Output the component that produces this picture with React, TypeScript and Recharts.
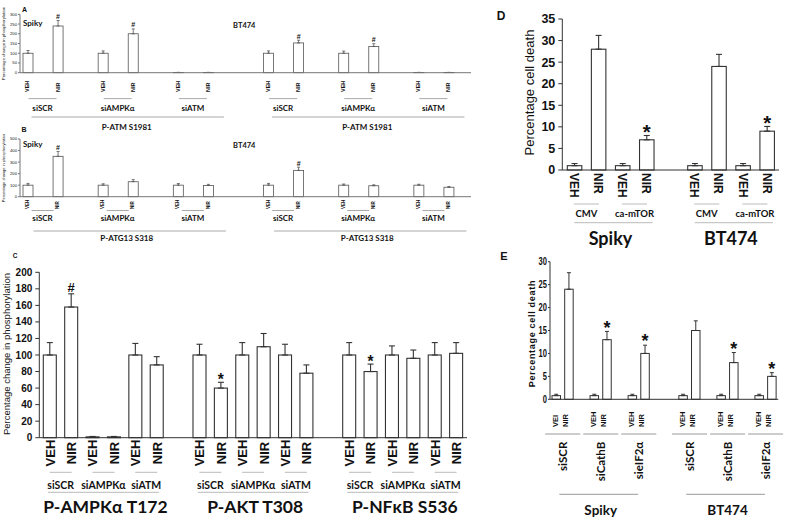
import React from 'react';
import { BarChart, Bar, XAxis, YAxis, ErrorBar } from 'recharts';

// ---------- Panel A : P-ATM S1981 ----------
const cellLines = ['Spiky', 'BT474'];
const abSubs = ['siSCR', 'siAMPKα', 'siATM'];
const aTitles = ['P-ATM S1981', 'P-ATM S1981'];
const aVeh = [100, 100, 1.5, 100, 100, 1.5];
const aNir = [240, 200, 1.5, 153, 135, 1.5];
const aVehErr = [14, 12, 0, 12, 11, 0];
const aNirErr = [28, 25, 0, 14, 14, 0];
const aMarks = ['#', '#', '', '#', '#', ''];
const aTicks = [0, 50, 100, 150, 200, 250, 300];

// ---------- Panel B : P-ATG13 S318 ----------
const bTitles = ['P-ATG13 S318', 'P-ATG13 S318'];
const bVeh = [100, 100, 100, 100, 100, 100];
const bNir = [350, 130, 97, 228, 95, 82];
const bVehErr = [15, 12, 14, 15, 10, 8];
const bNirErr = [42, 18, 10, 28, 8, 6];
const bMarks = ['#', '', '', '#', '', ''];
const bTicks = [0, 100, 200, 300, 400, 500];

// ---------- Panel C ----------
const cTitles = ['P-AMPKα T172', 'P-AKT T308', 'P-NFκB S536'];
const cSubs = ['siSCR', 'siAMPKα', 'siATM'];
const cVeh = [100, 1, 100, 100, 100, 100, 100, 100, 100];
const cNir = [158, 1, 88, 60, 110, 78, 80, 96, 102];
const cVehErr = [15, 0.5, 14, 13, 15, 13, 15, 11, 15];
const cNirErr = [16, 0.5, 10, 7, 16, 10, 9, 10, 13];
const cMarks = ['#', '', '', '*', '', '', '*', '', ''];
const cTicks = [0, 20, 40, 60, 80, 100, 120, 140, 160, 180, 200];

// ---------- Panel D ----------
const dSubs = ['CMV', 'ca-mTOR'];
const dVeh = [1, 1, 1, 1];
const dNir = [28, 7, 24, 9];
const dVehErr = [0.5, 0.5, 0.5, 0.5];
const dNirErr = [3.2, 1, 2.8, 1.1];
const dMarks = ['', '*', '', '*'];
const dTicks = [0, 5, 10, 15, 20, 25, 30, 35];

// ---------- Panel E ----------
const eSubs = ['siSCR', 'siCathB', 'sieIF2α'];
const eVeh = [0.8, 0.8, 0.8, 0.8, 0.8, 0.8];
const eNir = [24, 13, 10, 15, 8, 5];
const eVehErr = [0.3, 0.3, 0.3, 0.3, 0.3, 0.3];
const eNirErr = [3.6, 1.8, 1.8, 2.1, 2.2, 0.8];
const eMarks = ['', '*', '*', '', '*', '*'];
const eVehText = ['VEI', 'VEH', 'VEH', 'VEH', 'VEH', 'VEH'];
const eTicks = [0, 5, 10, 15, 20, 25, 30];

const FONT = '"Liberation Sans", Arial, sans-serif';
const LFONT = 'Lato, "Open Sans", "Liberation Sans", sans-serif';

type Slot = {
  key: string;
  kind: 'V' | 'N' | 'E';
  value: number | null;
  err: [number, number] | null;
  mark: string;
  text: string;
  sub: string;
  title: string;
  groupFirst: boolean;
  groupSpan: number;
};

type BuildOpts = {
  titles: string[];
  subs: string[];
  veh: number[];
  nir: number[];
  vehErr: number[];
  nirErr: number[];
  marks: string[];
  vehText?: string[];
  inner: number;
  pairGap: number;
  groupGap: number;
  trail: number;
};

function buildSlots(o: BuildOpts): Slot[] {
  const out: Slot[] = [];
  const empty = () =>
    out.push({ key: 'e' + out.length, kind: 'E', value: null, err: null, mark: '', text: '', sub: '', title: '', groupFirst: false, groupSpan: 0 });
  const nP = o.subs.length;
  const groupSpan = nP * (2 + o.inner) + (nP - 1) * o.pairGap;
  o.titles.forEach((title, g) => {
    if (g > 0) for (let k = 0; k < o.groupGap; k++) empty();
    o.subs.forEach((sub, p) => {
      if (p > 0) for (let k = 0; k < o.pairGap; k++) empty();
      const i = g * nP + p;
      out.push({ key: 'v' + out.length, kind: 'V', value: o.veh[i], err: [0, o.vehErr[i]], mark: '', text: o.vehText ? o.vehText[i] : 'VEH', sub, title, groupFirst: p === 0, groupSpan });
      for (let k = 0; k < o.inner; k++) empty();
      out.push({ key: 'n' + out.length, kind: 'N', value: o.nir[i], err: [0, o.nirErr[i]], mark: o.marks[i], text: 'NIR', sub, title, groupFirst: false, groupSpan });
    });
  });
  for (let k = 0; k < o.trail; k++) empty();
  return out;
}

type TickStyle = {
  rot: number;
  anchor: 'start' | 'middle' | 'end';
  ly: number;
  fs: number;
  vDx?: number;
  nDx?: number;
  inner: number;
  pairY: number;
  pairHalf: number;
  subY: number;
  subFs: number;
  subRot?: boolean;
  groupY: number;
  groupPad: number;
  lineShift?: number;
  titleShift?: number;
  titleY: number;
  titleFs: number;
  lineColor: string;
};

function makeTick(slots: Slot[], st: TickStyle, bw: number) {
  const byKey = new Map(slots.map((s) => [s.key, s]));
  return (props: any) => {
    const { x, y, payload } = props;
    const s = byKey.get(payload && payload.value);
    if (!s || s.kind === 'E') return <g />;
    const cx = x + (s.kind === 'N' ? st.nDx ?? 0 : st.vDx ?? 0);
    const bx = st.rot < 0 ? cx + 0.36 * st.fs : cx - 0.36 * st.fs;
    const by = y + st.ly;
    const els: any[] = [
      <text key="l" x={bx} y={by} transform={`rotate(${st.rot} ${bx} ${by})`} textAnchor={st.anchor}
        fontSize={st.fs} fontWeight="bold" fontFamily={FONT} fill="#111">
        {s.text}
      </text>,
    ];
    if (s.kind === 'V') {
      const pc = x + ((st.inner + 1) * bw) / 2;
      els.push(<line key="pl" x1={pc - st.pairHalf} x2={pc + st.pairHalf} y1={y + st.pairY} y2={y + st.pairY} stroke={st.lineColor} strokeWidth={1} />);
      if (st.subRot) {
        const sx = pc + 0.36 * st.subFs;
        const sy = y + st.subY;
        els.push(
          <text key="sl" x={sx} y={sy} transform={`rotate(-90 ${sx} ${sy})`} textAnchor="end" fontSize={st.subFs} fontWeight="bold" fontFamily={LFONT} fill="#111">
            {s.sub}
          </text>
        );
      } else {
        els.push(
          <text key="sl" x={pc} y={y + st.subY} dy="0.35em" textAnchor="middle" fontSize={st.subFs} fontWeight="bold" fontFamily={LFONT} fill="#111">
            {s.sub}
          </text>
        );
      }
      if (s.groupFirst) {
        const half = ((s.groupSpan - 1) * bw) / 2;
        const gc = x + half;
        const lc = gc + (st.lineShift ?? 0);
        const gh = half + st.groupPad;
        els.push(<line key="gl" x1={lc - gh} x2={lc + gh} y1={y + st.groupY} y2={y + st.groupY} stroke={st.lineColor} strokeWidth={1} />);
        els.push(
          <text key="gt" x={gc + (st.titleShift ?? 0)} y={y + st.titleY} dy="0.35em" textAnchor="middle" fontSize={st.titleFs} fontWeight="bold" fontFamily={LFONT} fill="#111">
            {s.title}
          </text>
        );
      }
    }
    return <g>{els}</g>;
  };
}

function makeYTick(fs: number, bold: boolean, scaleX: number) {
  return (props: any) => {
    const { x, y, payload } = props;
    return (
      <text x={0} y={0} transform={`translate(${x} ${y}) scale(${scaleX} 1)`} textAnchor="end" dy="0.35em"
        fontSize={fs} fontWeight={bold ? 'bold' : 'normal'} fontFamily={FONT} fill="#111">
        {payload.value}
      </text>
    );
  };
}

type PanelProps = {
  slots: Slot[];
  left: number;
  top: number;
  width: number;
  height: number;
  x0: number;
  x1: number;
  y0: number;
  y1: number;
  yTicks: number[];
  yFs: number;
  yBold: boolean;
  yScaleX?: number;
  yTickSize: number;
  yTickMargin: number;
  barSize: number;
  barStroke: string;
  barSW: number;
  capW: number;
  axisColor: string;
  boxColor: string;
  st: TickStyle;
  markFs: number;
  markGap: number;
};

function Panel(p: PanelProps) {
  const bw = (p.x1 - p.x0) / p.slots.length;
  const tick = makeTick(p.slots, p.st, bw);
  const yTick = makeYTick(p.yFs, p.yBold, p.yScaleX ?? 1);
  const yMax = p.yTicks[p.yTicks.length - 1];
  const shape = (sp: any) => {
    const d = sp.payload as Slot;
    if (!d || d.value == null || !(sp.height >= 0)) return <g />;
    const items: any[] = [
      <rect key="r" x={sp.x} y={sp.y} width={sp.width} height={sp.height} fill="#fff" stroke={p.barStroke} strokeWidth={p.barSW} />,
    ];
    if (d.mark) {
      const errPx = d.value > 0 && d.err ? (d.err[1] * sp.height) / d.value : 0;
      const cy = sp.y - errPx - p.markGap;
      const fs = d.mark === '*' ? p.markFs * 1.2 : p.markFs;
      const base = cy + (d.mark === '*' ? 0.57 : 0.36) * fs;
      items.push(
        <text key="m" x={sp.x + sp.width / 2} y={base} textAnchor="middle" fontSize={fs} fontWeight="bold" fontFamily={FONT} fill="#111">
          {d.mark}
        </text>
      );
    }
    return <g>{items}</g>;
  };
  return (
    <div style={{ position: 'absolute', left: p.left, top: p.top }}>
      <BarChart
        width={p.width}
        height={p.height}
        data={p.slots}
        margin={{ top: p.y0 - p.top, right: p.left + p.width - p.x1, left: 0, bottom: 0 }}
      >
        <XAxis
          dataKey="key"
          interval={0}
          tick={tick}
          tickLine={false}
          tickSize={0}
          tickMargin={0}
          height={p.top + p.height - p.y1}
          axisLine={{ stroke: p.axisColor }}
        />
        <XAxis xAxisId="top" orientation="top" dataKey="key" height={0} tick={false} tickLine={false} axisLine={{ stroke: p.boxColor }} />
        <YAxis
          domain={[0, yMax]}
          ticks={p.yTicks}
          interval={0}
          width={p.x0 - p.left}
          tickSize={p.yTickSize}
          tickMargin={p.yTickMargin}
          tickLine={{ stroke: p.axisColor }}
          axisLine={{ stroke: p.axisColor }}
          tick={yTick}
        />
        <YAxis yAxisId="right" orientation="right" domain={[0, yMax]} width={0} tick={false} tickLine={false} axisLine={{ stroke: p.boxColor }} />
        <Bar dataKey="value" isAnimationActive={false} barSize={p.barSize} shape={shape}>
          <ErrorBar dataKey="err" width={p.capW} stroke={p.barStroke} strokeWidth={p.barSW} direction="y" />
        </Bar>
      </BarChart>
    </div>
  );
}

const slotsA = buildSlots({ titles: aTitles, subs: abSubs, veh: aVeh, nir: aNir, vehErr: aVehErr, nirErr: aNirErr, marks: aMarks, inner: 1, pairGap: 2, groupGap: 3, trail: 1 });
const slotsB = buildSlots({ titles: bTitles, subs: abSubs, veh: bVeh, nir: bNir, vehErr: bVehErr, nirErr: bNirErr, marks: bMarks, inner: 1, pairGap: 2, groupGap: 3, trail: 1 });
const slotsC = buildSlots({ titles: cTitles, subs: cSubs, veh: cVeh, nir: cNir, vehErr: cVehErr, nirErr: cNirErr, marks: cMarks, inner: 0, pairGap: 0, groupGap: 1, trail: 0 });
const slotsD = buildSlots({ titles: cellLines, subs: dSubs, veh: dVeh, nir: dNir, vehErr: dVehErr, nirErr: dNirErr, marks: dMarks, inner: 0, pairGap: 0, groupGap: 1, trail: 0 });
const slotsE = buildSlots({ titles: cellLines, subs: eSubs, veh: eVeh, nir: eNir, vehErr: eVehErr, nirErr: eNirErr, marks: eMarks, vehText: eVehText, inner: 0, pairGap: 1, groupGap: 2, trail: 0 });

const YTITLE_PHOS = 'Percentage change in phosphorylation';
const YTITLE_DEATH = 'Percentage cell death';

function VText(props: { x: number; y: number; fs: number; text: string; bold?: boolean; ls?: number; font?: string }) {
  const { x, y, fs, text, bold, ls, font } = props;
  return (
    <text x={x} y={y} transform={`rotate(-90 ${x} ${y})`} textAnchor="middle" dominantBaseline="central" fontSize={fs}
      fontWeight={bold ? 'bold' : 'normal'} fontFamily={font ?? FONT} letterSpacing={ls ?? 0} fill="#111">
      {text}
    </text>
  );
}

export default function App() {
  return (
    <div style={{ position: 'absolute', left: 0, top: 0, width: 800, height: 531, background: '#fff', overflow: 'hidden' }}>
      <Panel slots={slotsA} left={0} top={0} width={480} height={134} x0={20} x1={471} y0={14.3} y1={72.7}
        yTicks={aTicks} yFs={4.2} yBold={false} yTickSize={2} yTickMargin={1}
        barSize={10} barStroke="#555" barSW={0.8} capW={1.5} axisColor="#777" boxColor="#999"
        markFs={7} markGap={4}
        st={{ rot: -90, anchor: 'start', ly: 19.3, fs: 5.5, inner: 1, pairY: 25.9, pairHalf: 14, subY: 35.3, subFs: 8,
          groupY: 44.3, groupPad: 6, lineShift: 10, titleShift: 9, titleY: 54, titleFs: 8, lineColor: '#aaa' }} />
      <Panel slots={slotsB} left={0} top={125} width={480} height={122} x0={20} x1={471} y0={139} y1={196.7}
        yTicks={bTicks} yFs={4.2} yBold={false} yTickSize={2} yTickMargin={1}
        barSize={10} barStroke="#555" barSW={0.8} capW={1.5} axisColor="#777" boxColor="#999"
        markFs={7} markGap={4}
        st={{ rot: -90, anchor: 'start', ly: 12.3, fs: 4.5, inner: 1, pairY: 13.8, pairHalf: 11, subY: 21, subFs: 8,
          groupY: 34.3, groupPad: 6, lineShift: 12, titleShift: 9, titleY: 41.6, titleFs: 8, lineColor: '#aaa' }} />
      <Panel slots={slotsC} left={0} top={250} width={480} height={280} x0={39.3} x1={467} y0={272.3} y1={437.7}
        yTicks={cTicks} yFs={10} yBold={true} yTickSize={4} yTickMargin={3}
        barSize={13} barStroke="#333" barSW={1.1} capW={3} axisColor="#333" boxColor="#999"
        markFs={13} markGap={6}
        st={{ rot: -90, anchor: 'middle', ly: 15.3, fs: 13, inner: 0, pairY: 34.6, pairHalf: 11, subY: 47.3, subFs: 10.5,
          groupY: 54.6, groupPad: 2, titleShift: 2, titleY: 69, titleFs: 17.5, lineColor: '#bbb' }} />
      <Panel slots={slotsD} left={500} top={0} width={290} height={252} x0={562.3} x1={779} y0={19} y1={170}
        yTicks={dTicks} yFs={12.5} yBold={true} yTickSize={4} yTickMargin={3}
        barSize={14.5} barStroke="#333" barSW={1.1} capW={3} axisColor="#333" boxColor="#888"
        markFs={17} markGap={8}
        st={{ rot: 90, anchor: 'start', ly: 3, fs: 12, inner: 0, pairY: 34, pairHalf: 12.5, subY: 43.3, subFs: 9.5,
          groupY: 52.7, groupPad: 3, lineShift: 3, titleY: 68.3, titleFs: 18, lineColor: '#bbb' }} />
      <Panel slots={slotsE} left={510} top={252} width={280} height={279} x0={550} x1={778.3} y0={261.7} y1={399.3}
        yTicks={eTicks} yFs={10.5} yBold={true} yScaleX={0.72} yTickSize={2} yTickMargin={1}
        barSize={8.5} barStroke="#333" barSW={1} capW={2} axisColor="#333" boxColor="#888"
        markFs={15} markGap={8}
        st={{ rot: -90, anchor: 'start', ly: 27.7, fs: 7.5, vDx: -1, nDx: -4, inner: 0, pairY: 34.7, pairHalf: 17.5, subY: 42.4, subFs: 11.5, subRot: true,
          groupY: 95, groupPad: -5, lineShift: -2, titleY: 110.7, titleFs: 13.5, lineColor: '#999' }} />

      <svg width={800} height={531} style={{ position: 'absolute', left: 0, top: 0, pointerEvents: 'none' }}>
        <g fontFamily={FONT} fontWeight="bold" fill="#111" textAnchor="middle" dominantBaseline="central">
          <text x={24.5} y={9.5} fontSize={7}>A</text>
          <text x={24} y={129} fontSize={7}>B</text>
          <text x={15} y={255} fontSize={6.5}>C</text>
          <text x={501} y={15.5} fontSize={12}>D</text>
          <text x={504} y={256} fontSize={11}>E</text>
        </g>
        <VText x={3.5} y={43.5} fs={4.3} text={YTITLE_PHOS} />
        <VText x={3.5} y={168} fs={4} text={YTITLE_PHOS} />
        <VText x={6} y={354} fs={9.5} text={YTITLE_PHOS} />
        <VText x={529} y={92.5} fs={13} text={YTITLE_DEATH} />
        <VText x={532} y={333.5} fs={9} text={YTITLE_DEATH} bold ls={0.7} />
        <g fontFamily={LFONT} fontWeight="bold" fill="#111" dominantBaseline="central">
          <text x={23} y={23.3} fontSize={8}>{cellLines[0]}</text>
          <text x={233} y={25} fontSize={7.5}>{cellLines[1]}</text>
          <text x={23} y={143.5} fontSize={8}>{cellLines[0]}</text>
          <text x={233} y={145.5} fontSize={7.5}>{cellLines[1]}</text>
        </g>
      </svg>
    </div>
  );
}
